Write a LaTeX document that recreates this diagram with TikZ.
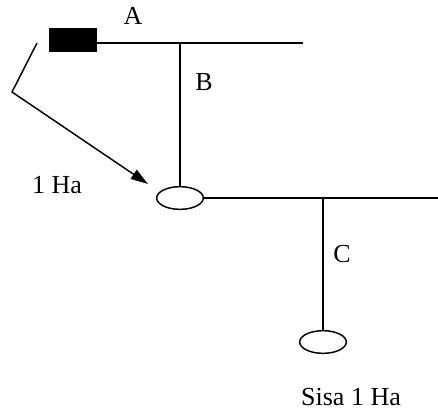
\documentclass[tikz,border=0pt]{standalone}
\usepackage{fontspec}
\setmainfont{Liberation Serif}
\usetikzlibrary{shapes,arrows.meta,positioning}

\begin{document}
\begin{tikzpicture}[x=0.75pt, y=-0.75pt, line width=1.1pt,
  gate/.style={rectangle, draw, fill=black, minimum width=35pt, minimum height=17pt, inner sep=0pt},
  plot/.style={ellipse, draw, minimum width=35pt, minimum height=17pt, inner sep=0pt},
  lbl/.style={font=\fontsize{19.5}{22}\selectfont, inner sep=0pt}
]
\useasboundingbox (0,0) rectangle (438,412);

% main channel
\node[gate] (a) at (73,40) {};
\coordinate (ab) at (180,43);
\coordinate (aend) at (303,43);
\draw (a.east |- ab) -- (aend);

% first plot
\node[plot] (p1) at (180,198) {};
\draw (ab) -- (p1.north);
\coordinate (c) at (323,198);
\coordinate (cend) at (438,198);
\draw (p1.east) -- (cend);

% second plot
\node[plot] (p2) at (323,342) {};
\draw (c) -- (p2.north);

% flow arrow
\coordinate (k1) at (37,43);
\coordinate (k2) at (12,92);
\coordinate (tip) at (148,184);
\draw[-{Triangle[length=13pt,width=8pt]}] (k1) -- (k2) -- (tip);

% labels
\node[lbl] (la) at (133,16) {A};
\node[lbl] (lb) at (204,82) {B};
\node[lbl] (lc) at (342,254) {C};
\node[lbl] (lh) at (57,185) {1 Ha};
\node[lbl] (ls) at (351,397) {Sisa 1 Ha};
\end{tikzpicture}
\end{document}
